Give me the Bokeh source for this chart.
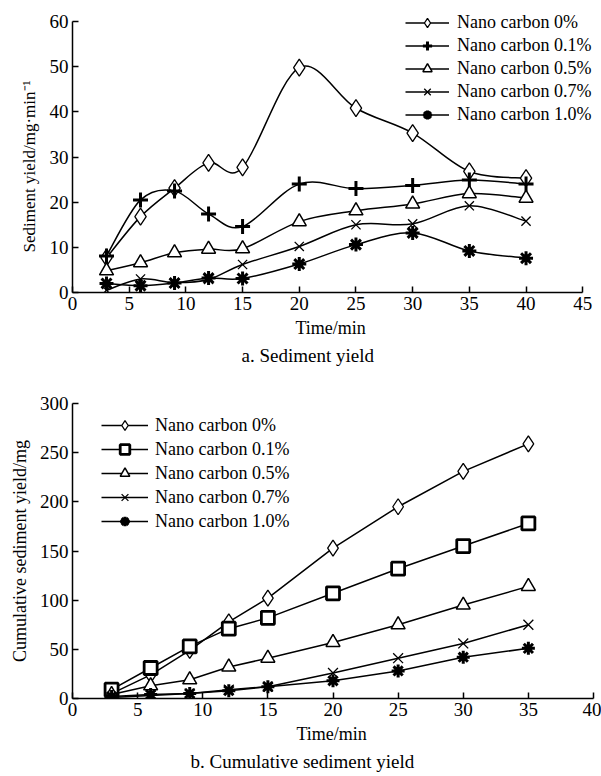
from bokeh.plotting import figure
from bokeh.models import Range1d, Legend, LegendItem, Title, FixedTicker
from bokeh.layouts import column
from bokeh.embed import file_html
from bokeh.resources import INLINE

# ---- data: a. Sediment yield (mg/min) ----
time_a = [3, 6, 9, 12, 15, 20, 25, 30, 35, 40]
yield_0 = [7.7, 16.8, 23.1, 28.7, 27.7, 49.8, 40.8, 35.3, 26.8, 25.3]
yield_01 = [8.1, 20.5, 22.5, 17.4, 14.6, 24.0, 23.0, 23.7, 24.9, 24.0]
yield_05 = [4.8, 6.6, 8.8, 9.6, 9.7, 15.7, 18.1, 19.6, 21.9, 20.9]
yield_07 = [0.5, 3.0, 2.2, 2.9, 6.2, 10.2, 15.0, 15.2, 19.2, 15.8]
yield_10 = [2.0, 1.5, 2.1, 3.2, 3.1, 6.3, 10.6, 13.2, 9.2, 7.6]

# ---- data: b. Cumulative sediment yield (mg) ----
time_b = [3, 6, 9, 12, 15, 20, 25, 30, 35]
cum_0 = [5, 24, 49, 78, 102, 153, 195, 231, 259]
cum_01 = [9, 31, 53, 71, 82, 107, 132, 155, 178]
cum_05 = [4, 13, 19, 32, 41, 57, 75, 95, 114]
cum_07 = [1, 3, 5, 9, 12, 26, 41, 56, 75]
cum_10 = [2, 4, 5, 8, 12, 18, 28, 42, 51]

labels = ["Nano carbon 0%", "Nano carbon 0.1%", "Nano carbon 0.5%",
          "Nano carbon 0.7%", "Nano carbon 1.0%"]
x_ticks_a = [0, 5, 10, 15, 20, 25, 30, 35, 40, 45]
y_ticks_a = [0, 10, 20, 30, 40, 50, 60]
x_ticks_b = [0, 5, 10, 15, 20, 25, 30, 35, 40]
y_ticks_b = [0, 50, 100, 150, 200, 250, 300]

FONT = "Liberation Serif"
FS = "18px"
FS_TICK = "19px"


def bezier_cols(x, y, t=1.0):
    """Catmull-Rom style control points for a smooth curve through the data."""
    n = len(x)
    out = dict(x0=[], y0=[], x1=[], y1=[], cx0=[], cy0=[], cx1=[], cy1=[])
    for i in range(n - 1):
        xa, ya = (x[i - 1], y[i - 1]) if i > 0 else (x[i], y[i])
        xd, yd = (x[i + 2], y[i + 2]) if i + 2 < n else (x[i + 1], y[i + 1])
        out["x0"].append(x[i]); out["y0"].append(y[i])
        out["x1"].append(x[i + 1]); out["y1"].append(y[i + 1])
        out["cx0"].append(x[i] + t * (x[i + 1] - xa) / 6)
        out["cy0"].append(y[i] + t * (y[i + 1] - ya) / 6)
        out["cx1"].append(x[i + 1] - t * (xd - x[i]) / 6)
        out["cy1"].append(y[i + 1] - t * (yd - y[i]) / 6)
    return out


def txt(text, size=FS, **kw):
    return Title(text=text, text_font=FONT, text_font_size=size,
                 text_font_style="normal", text_color="black", **kw)


def make_fig(width, height, xr, yr, xb, yb, xt, yt, left, top, right, bottom,
             ylabel, ylabel_size, ylabel_standoff, ylabel_align, ylabel_offset,
             xlabel_offset, caption, caption_offset):
    p = figure(width=width, height=height, x_range=Range1d(*xr), y_range=Range1d(*yr),
               output_backend="svg", toolbar_location=None,
               min_border_left=left, min_border_top=top,
               min_border_right=right, min_border_bottom=bottom)
    p.outline_line_color = None
    p.xgrid.grid_line_color = None
    p.ygrid.grid_line_color = None
    p.background_fill_color = "white"
    p.border_fill_color = "white"
    for ax, ticks, bnd in ((p.xaxis[0], xt, xb), (p.yaxis[0], yt, yb)):
        ax.ticker = FixedTicker(ticks=ticks)
        ax.bounds = bnd
        ax.axis_line_color = "black"
        ax.axis_line_width = 1.5
        ax.major_tick_line_color = "black"
        ax.major_tick_line_width = 1.5
        ax.major_tick_in = 6
        ax.major_tick_out = 0
        ax.minor_tick_line_color = None
        ax.major_label_text_font = FONT
        ax.major_label_text_font_size = FS_TICK
        ax.major_label_text_color = "black"
    p.xaxis.major_label_standoff = 4
    p.yaxis.major_label_standoff = 4
    # axis titles and caption as plain (non-bold) text panels
    p.add_layout(txt("Time/min", align="left", offset=xlabel_offset, standoff=6), "below")
    p.add_layout(txt(caption, size="19px", align="left", offset=caption_offset, standoff=5), "below")
    p.add_layout(txt(ylabel, size=ylabel_size, align=ylabel_align, offset=ylabel_offset,
                     standoff=ylabel_standoff), "left")
    return p


marker_styles_a = [
    dict(marker="diamond", size=17, line_width=1.3, fill_color="white"),
    dict(marker="cross", size=15, line_width=3, fill_color="white"),
    dict(marker="triangle", size=14, line_width=1.5, fill_color="white"),
    dict(marker="x", size=13, line_width=1.3, fill_color="white"),
    dict(marker="asterisk", size=14, line_width=3, fill_color="white"),
]
marker_styles_b = [
    dict(marker="diamond", size=16, line_width=1.3, fill_color="white"),
    dict(marker="square", size=13, line_width=2.8, fill_color="white"),
    dict(marker="triangle", size=14, line_width=1.5, fill_color="white"),
    dict(marker="x", size=14, line_width=1.3, fill_color="white"),
    dict(marker="asterisk", size=13, line_width=3, fill_color="white"),
]

# ---------------- figure a ----------------
# frame slightly larger than the axes so the legend fits; axis lines stop at 45 / 60
pa = make_fig(601, 374, (0, 45.95), (0, 64.43), (0, 45), (0, 60), x_ticks_a, y_ticks_a,
              68, 1, 1, 82, "Sediment yield/mg\u00b7min\u207b\u00b9", "17px", 15, "left", 40,
              223, "a. Sediment yield", 169)
items_a = []
for ys, lab, ms in zip([yield_0, yield_01, yield_05, yield_07, yield_10], labels, marker_styles_a):
    lr = pa.bezier(source=bezier_cols(time_a, ys), x0="x0", y0="y0", x1="x1", y1="y1",
                   cx0="cx0", cy0="cy0", cx1="cx1", cy1="cy1",
                   line_color="black", line_width=1.5)
    sr = pa.scatter(time_a, ys, line_color="black", **ms)
    items_a.append(LegendItem(label=lab, renderers=[lr, sr]))
leg_a = Legend(items=items_a, location=(333, 166), padding=2, spacing=0,
               glyph_width=44, glyph_height=23, label_height=23, label_standoff=8,
               label_text_font=FONT, label_text_font_size=FS, label_text_color="black",
               border_line_color=None, background_fill_alpha=0)
pa.add_layout(leg_a, "center")

# ---------------- figure b ----------------
pb = make_fig(601, 401, (0, 40), (0, 300), (0, 40), (0, 300), x_ticks_b, y_ticks_b,
              72, 29, 8, 77, "Cumulative sediment yield/mg", FS, 14, "center", 0,
              224, "b. Cumulative sediment yield", 118)
items_b = []
for ys, lab, ms in zip([cum_0, cum_01, cum_05, cum_07, cum_10], labels, marker_styles_b):
    lr = pb.line(time_b, ys, line_color="black", line_width=1.5)
    sr = pb.scatter(time_b, ys, line_color="black", **ms)
    items_b.append(LegendItem(label=lab, renderers=[lr, sr]))
leg_b = Legend(items=items_b, location=(29, 165), padding=2, spacing=0,
               glyph_width=47, glyph_height=24, label_height=24, label_standoff=7,
               label_text_font=FONT, label_text_font_size=FS, label_text_color="black",
               border_line_color=None, background_fill_alpha=0)
pb.add_layout(leg_b, "center")

layout = column(pa, pb, spacing=0)
open("out.html", "w").write(file_html(layout, INLINE))
